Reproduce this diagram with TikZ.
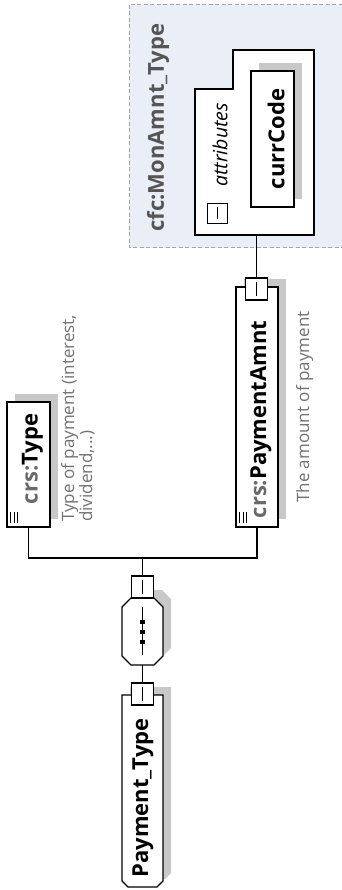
\documentclass[tikz,border=0pt]{standalone}
\usepackage{fontspec}
\setmainfont{Open Sans}
\usetikzlibrary{shadows}
\definecolor{shd}{HTML}{C8C8C8}
\definecolor{dgray}{HTML}{727272}
\definecolor{pgray}{HTML}{6A6A6A}
\definecolor{cfcfill}{HTML}{EAEEF6}
\definecolor{cfcline}{HTML}{A5A5A5}
\definecolor{cfctxt}{HTML}{555555}
\begin{document}
\begin{tikzpicture}[x=1pt,y=-1pt,
  ln/.style={line width=1.3pt, draw=black},
  ghost/.style={inner sep=0pt, outer sep=0pt, draw=none},
  box/.style={ln, fill=white, inner sep=0pt, outer sep=0pt},
  shbox/.style={box, general shadow={fill=shd, shadow xshift=8pt, shadow yshift=8pt}},
  sq/.style={box, minimum width=22pt, minimum height=22pt},
  ttl/.style={rotate=90, inner sep=0pt, font=\fontsize{22}{22}\selectfont\bfseries},
  dsc/.style={rotate=90, inner sep=0pt, text=dgray, align=left, font=\fontsize{17}{15.5}\selectfont},
  conn/.style={line width=1.3pt}]
\useasboundingbox (0,0) rectangle (342,890);

% --- complex type frame
\node[ghost, anchor=north west, minimum width=218pt, minimum height=243pt] (cfc) at (129,5) {};
\draw[cfcline, dash pattern=on 4pt off 2.5pt, line width=1pt, fill=cfcfill] (cfc.north west) rectangle (cfc.south east);
\node[ttl, text=cfctxt] (cfct) at (158,127.5) {cfc:MonAmnt\_Type};

% --- attributes box
\node[ghost, anchor=north west, minimum width=119pt, minimum height=185pt] (attr) at (195,50) {};
\draw[ln, fill=white] (attr.south west) -- ([yshift=-39pt]attr.north west) -- ([xshift=38pt,yshift=-39pt]attr.north west)
  -- ([xshift=38pt]attr.north west) -- (attr.north east) -- (attr.south east) -- cycle;
\node[box, minimum width=20pt, minimum height=20pt] (attrmin) at (217.5,213.5) {};
\draw[line width=1.1pt] ([yshift=6pt]attrmin.center) -- ([yshift=-6pt]attrmin.center);
\node[rotate=90, inner sep=0pt, font=\fontsize{19.5}{19.5}\selectfont\itshape] (attrt) at (220,145) {attributes};

% --- currCode
\node[shbox, minimum width=43pt, minimum height=136pt] (cc) at (272.5,139) {};
\node[ttl] (cct) at (276,139) {currCode};

% --- PaymentAmnt
\node[shbox, minimum width=42pt, minimum height=240pt] (pa) at (257,407) {};
\node[sq] (pasq) at (256.5,289) {};
\draw[line width=1.1pt] ([yshift=7pt]pasq.center) -- ([yshift=-7pt]pasq.center);
\node[ttl] (pat) at (261,419.5) {{\color{pgray}crs:}PaymentAmnt};
\foreach \d in {3.5,7,10.5}{\draw[line width=0.9pt] ([xshift=\d pt, yshift=4pt]pa.south west) -- ++(0,-11);}
\node[dsc, anchor=north west] (pad) at (296,503) {The amount of payment};
\draw[conn] (pasq.north |- attr.south) -- (pasq.north);

% --- crs:Type
\node[shbox, minimum width=43pt, minimum height=125pt] (ty) at (28.5,464.5) {};
\node[ttl] (tyt) at (32.5,459) {{\color{pgray}crs:}Type};
\foreach \d in {3.5,7,10.5}{\draw[line width=0.9pt] ([xshift=\d pt, yshift=4pt]ty.south west) -- ++(0,-11);}
\node[dsc, anchor=north west] (tyd) at (61,522) {Type of payment (interest,\\dividend,...)};

% --- sequence compositor
\coordinate (bus) at (142.5,558);
\node[ghost, minimum width=41pt, minimum height=67pt] (seq) at (142.5,631.5) {};
\fill[shd, transform canvas={xshift=8pt,yshift=8pt}]
  ([xshift=9pt]seq.north west) -- ([xshift=-9pt]seq.north east) -- ([yshift=-9pt]seq.north east) -- ([yshift=9pt]seq.south east)
  -- ([xshift=-9pt]seq.south east) -- ([xshift=9pt]seq.south west) -- ([yshift=9pt]seq.south west) -- ([yshift=-9pt]seq.north west) -- cycle;
\draw[ln, fill=white]
  ([xshift=9pt]seq.north west) -- ([xshift=-9pt]seq.north east) -- ([yshift=-9pt]seq.north east) -- ([yshift=9pt]seq.south east)
  -- ([xshift=-9pt]seq.south east) -- ([xshift=9pt]seq.south west) -- ([yshift=9pt]seq.south west) -- ([yshift=-9pt]seq.north west) -- cycle;
\draw[line width=1pt] ([yshift=-9pt]seq.north) -- ([yshift=10pt]seq.south);
\foreach \k in {-10,0,10}{\fill ([xshift=-2.5pt,yshift=\k pt-2pt]seq.center) rectangle ([xshift=2.5pt,yshift=\k pt+2pt]seq.center);}
\node[sq] (seqsq) at (142.5,587) {};
\draw[line width=1.1pt] ([yshift=7pt]seqsq.center) -- ([yshift=-7pt]seqsq.center);

% --- Payment_Type
\node[ghost, minimum width=41pt, minimum height=192pt] (pt) at (142.5,791) {};
\fill[shd, transform canvas={xshift=8pt,yshift=8pt}]
  (pt.north west) -- (pt.north east) -- ([yshift=6pt]pt.south east) -- ([xshift=-6pt]pt.south east)
  -- ([xshift=6pt]pt.south west) -- ([yshift=6pt]pt.south west) -- cycle;
\draw[ln, fill=white]
  (pt.north west) -- (pt.north east) -- ([yshift=6pt]pt.south east) -- ([xshift=-6pt]pt.south east)
  -- ([xshift=6pt]pt.south west) -- ([yshift=6pt]pt.south west) -- cycle;
\node[sq] (ptsq) at (142.5,694) {};
\draw[line width=1.1pt] ([yshift=7pt]ptsq.center) -- ([yshift=-7pt]ptsq.center);
\node[ttl] (ptt) at (143,798) {Payment\_Type};

% --- connectors
\draw[conn] (ty.south) |- (bus) -| (pa.south);
\draw[conn] (bus) -- (seqsq.north);
\draw[conn] (seq.south) -- (ptsq.north);
\end{tikzpicture}
\end{document}
